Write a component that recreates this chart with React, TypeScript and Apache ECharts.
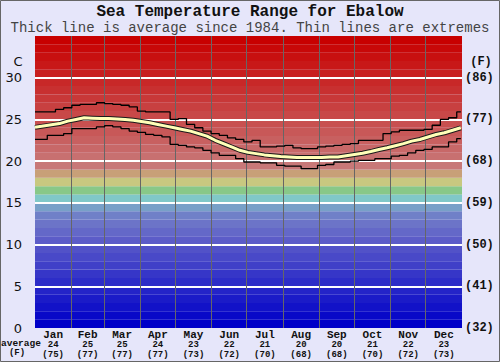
import React, { useEffect, useRef } from "react";
import * as echarts from "echarts";

const months = ["Jan", "Feb", "Mar", "Apr", "May", "Jun", "Jul", "Aug", "Sep", "Oct", "Nov", "Dec"];
const monthAvgC = [24, 25, 25, 24, 23, 22, 21, 20, 20, 21, 22, 23];
const monthAvgF = [75, 77, 77, 77, 73, 72, 70, 68, 68, 70, 72, 73];
const monthEnds = [0, 31, 59, 90, 120, 151, 181, 212, 243, 273, 304, 334, 365];

const sampleDays = [
  0, 7, 14, 21, 28, 35, 42, 49, 56, 63, 70, 77, 84, 91, 98, 105, 112, 119, 126, 133, 140, 147, 154, 161, 168, 175,
  182, 189, 196, 203, 210, 217, 224, 231, 238, 245, 252, 259, 266, 273, 280, 287, 294, 301, 308, 315, 322, 329,
  336, 343, 350, 357, 364,
];
const maxTemp = [
  25.9, 25.9, 25.9, 26.2, 26.4, 26.7, 26.8, 26.8, 27.0, 26.9, 26.8, 26.7, 26.5, 26.0, 25.9, 25.9, 25.9, 25.0, 25.1,
  24.4, 24.0, 23.6, 23.3, 23.1, 22.8, 22.6, 22.3, 22.5, 21.7, 21.7, 21.8, 21.9, 21.6, 21.5, 21.5, 21.7, 21.8, 21.9,
  22.0, 22.1, 22.5, 22.5, 22.5, 23.3, 23.5, 23.7, 23.7, 23.7, 23.8, 24.3, 25.0, 25.2, 25.9,
];
const avgTemp = [
  24.05, 24.2, 24.35, 24.5, 24.8, 25.0, 25.2, 25.15, 25.1, 25.1, 25.05, 25.0, 24.9, 24.75, 24.6, 24.4, 24.2, 24.0,
  23.8, 23.6, 23.3, 23.0, 22.5, 22.1, 21.7, 21.3, 21.05, 20.9, 20.75, 20.65, 20.55, 20.5, 20.45, 20.45, 20.45, 20.45,
  20.5, 20.5, 20.65, 20.8, 20.95, 21.15, 21.4, 21.6, 21.85, 22.1, 22.4, 22.6, 22.9, 23.2, 23.4, 23.7, 24.0,
];
const minTemp = [
  22.6, 22.6, 23.1, 23.1, 23.3, 23.9, 23.9, 23.9, 24.1, 24.25, 24.1, 23.9, 23.6, 23.45, 23.2, 23.1, 22.9, 22.0, 21.9,
  21.7, 21.6, 21.3, 21.0, 20.7, 20.7, 20.3, 19.9, 19.9, 19.8, 19.8, 19.5, 19.4, 19.4, 19.1, 19.1, 19.5, 19.6, 19.9,
  19.9, 20.0, 20.1, 20.1, 20.3, 20.3, 20.6, 20.7, 21.0, 21.3, 21.4, 21.7, 21.7, 22.3, 22.7,
];
const cTicks = [0, 5, 10, 15, 20, 25, 30];

const bandColors = [
  "#0000c8", "#0909c8", "#1212c8", "#1b1bc8", "#2424c8", "#2d2dc8", "#3636c8", "#4040c8", "#4949c8", "#5252c8",
  "#5c5cc8", "#6468c8", "#6c74c8", "#7080c8", "#78a0c8", "#80c8c8", "#88c888", "#c8c880", "#c8a078", "#c87878",
  "#c87070", "#c86868", "#c86060", "#c85858", "#c85050", "#c84848", "#c84040", "#c83838", "#c83030", "#c82828",
  "#c82020", "#c81818", "#c81010", "#c80808", "#c80000",
];

const MONO = "'Liberation Mono', 'DejaVu Sans Mono', monospace";

export default function App() {
  const ref = useRef<HTMLDivElement>(null);
  useEffect(() => {
    const chart = echarts.init(ref.current!, null, { renderer: "svg" });
    const mids = months.map((_, i) => (monthEnds[i] + monthEnds[i + 1]) / 2);
    const pts = (vals: number[]) => sampleDays.map((d, i) => [d, vals[i]]);
    const bands = bandColors.map((c, i) => [{ yAxis: i, itemStyle: { color: c } }, { yAxis: i + 1 }]);
    const hLines = cTicks.filter((v) => v > 0).map((v) => ({ yAxis: v, lineStyle: { color: "#ffffff", width: 2, type: "solid" } }));
    const vLines = monthEnds.slice(1, 12).map((d) => ({ xAxis: d, lineStyle: { color: "#666666", width: 1, type: "solid" } }));

    chart.setOption({
      animation: false,
      backgroundColor: "#e6e6fa",
      grid: { left: 35, right: 38, top: 36, bottom: 34 },
      xAxis: {
        type: "value",
        min: 0,
        max: 365,
        axisLine: { show: false },
        axisTick: { show: false },
        splitLine: { show: false },
        axisLabel: {
          customValues: mids,
          margin: 2,
          interval: 0,
          formatter: (v: number) => {
            const i = mids.findIndex((m) => Math.abs(m - v) < 0.01);
            if (i < 0) return "";
            return `{m|${months[i]}}\n{v|${monthAvgC[i]}}\n{f|(${monthAvgF[i]})}`;
          },
          rich: {
            m: { fontFamily: MONO, fontWeight: "bold", fontSize: 11, color: "#111", lineHeight: 10 },
            v: { fontFamily: MONO, fontWeight: "bold", fontSize: 9, color: "#111", lineHeight: 10 },
            f: { fontFamily: MONO, fontWeight: "bold", fontSize: 9, color: "#111", lineHeight: 10 },
          },
        },
      },
      yAxis: [
        {
          type: "value",
          min: 0,
          max: 35,
          interval: 5,
          axisLine: { show: false },
          axisTick: { show: false },
          splitLine: { show: false },
          axisLabel: {
            margin: 13,
            fontFamily: "'DejaVu Sans', sans-serif",
            fontSize: 13,
            color: "#111",
            formatter: (v: number) => (v >= 35 ? "" : String(v)),
          },
        },
        {
          type: "value",
          min: 0,
          max: 35,
          interval: 5,
          position: "right",
          axisLine: { show: false },
          axisTick: { show: false },
          splitLine: { show: false },
          axisLabel: {
            margin: 3,
            fontFamily: MONO,
            fontWeight: "bold",
            fontSize: 12,
            color: "#111",
            formatter: (v: number) => (v >= 35 ? "" : `(${Math.round((v * 9) / 5 + 32)})`),
          },
        },
      ],
      graphic: [
        {
          type: "text",
          x: 250,
          y: 12,
          style: { text: "Sea Temperature Range for Ebalow", font: `bold 16px ${MONO}`, fill: "#111", align: "center", verticalAlign: "middle" },
        },
        {
          type: "text",
          x: 250,
          y: 28,
          style: { text: "Thick line is average since 1984. Thin lines are extremes", font: `14px ${MONO}`, fill: "#444", align: "center", verticalAlign: "middle" },
        },
        { type: "text", x: 18, y: 61, style: { text: "C", font: `13px 'DejaVu Sans', sans-serif`, fill: "#111", align: "center", verticalAlign: "middle" } },
        { type: "text", x: 481, y: 62, style: { text: "(F)", font: `bold 12px ${MONO}`, fill: "#111", align: "center", verticalAlign: "middle" } },
        { type: "text", x: 1, y: 343, style: { text: "average", font: `bold 9.5px ${MONO}`, fill: "#111", verticalAlign: "middle" } },
        { type: "text", x: 17, y: 353, style: { text: "(F)", font: `bold 9px ${MONO}`, fill: "#111", align: "center", verticalAlign: "middle" } },
        {
          type: "rect",
          shape: { x: 0.5, y: 0.5, width: 499, height: 361 },
          style: { fill: "none", stroke: "#666", lineWidth: 1 },
          silent: true,
        },
      ],
      series: [
        {
          type: "line",
          data: [],
          z: 1,
          silent: true,
          markArea: { silent: true, label: { show: false }, data: bands },
        },
        {
          type: "line",
          data: [],
          z: 3,
          silent: true,
          markLine: { silent: true, symbol: "none", label: { show: false }, data: [...hLines, ...vLines] },
        },
        {
          type: "line",
          data: pts(maxTemp),
          step: "middle",
          symbol: "none",
          z: 10,
          lineStyle: { color: "#000", width: 1.3 },
        },
        {
          type: "line",
          data: pts(minTemp),
          step: "middle",
          symbol: "none",
          z: 10,
          lineStyle: { color: "#000", width: 1.3 },
        },
        {
          type: "line",
          data: pts(avgTemp),
          symbol: "none",
          z: 11,
          lineStyle: { color: "#1a1a1a", width: 5 },
        },
        {
          type: "line",
          data: pts(avgTemp),
          symbol: "none",
          z: 12,
          lineStyle: { color: "#ffffb8", width: 3 },
        },
      ],
    });
    return () => chart.dispose();
  }, []);
  return <div ref={ref} style={{ position: "fixed", left: 0, top: 0, width: 500, height: 362 }} />;
}
